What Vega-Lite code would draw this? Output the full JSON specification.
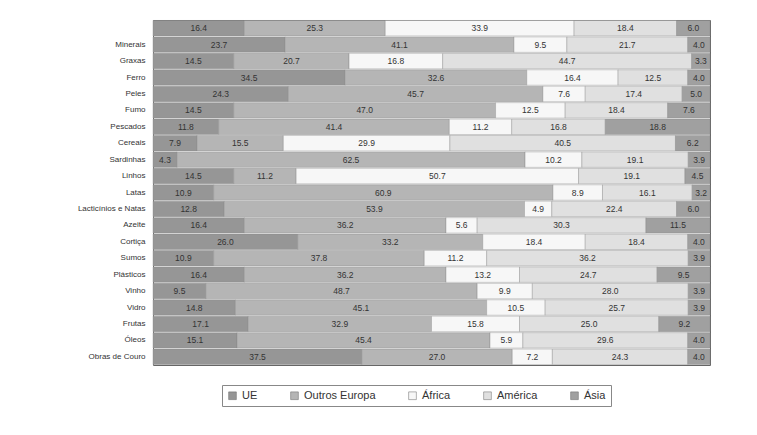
{
  "$schema": "https://vega.github.io/schema/vega-lite/v6.json",
  "width": 557,
  "height": 345,
  "autosize": {"type": "none"},
  "padding": {"left": 153, "top": 20, "right": 47, "bottom": 70},
  "background": "white",
  "config": {"view": {"stroke": "#666", "strokeWidth": 1}, "font": "Liberation Sans"},
  "data": {"values": [
    {"c": "Total", "UE": 16.4, "Outros Europa": 25.3, "África": 33.9, "América": 18.4, "Ásia": 6.0},
    {"c": "Minerais", "UE": 23.7, "Outros Europa": 41.1, "África": 9.5, "América": 21.7, "Ásia": 4.0},
    {"c": "Graxas", "UE": 14.5, "Outros Europa": 20.7, "África": 16.8, "América": 44.7, "Ásia": 3.3},
    {"c": "Ferro", "UE": 34.5, "Outros Europa": 32.6, "África": 16.4, "América": 12.5, "Ásia": 4.0},
    {"c": "Peles", "UE": 24.3, "Outros Europa": 45.7, "África": 7.6, "América": 17.4, "Ásia": 5.0},
    {"c": "Fumo", "UE": 14.5, "Outros Europa": 47.0, "África": 12.5, "América": 18.4, "Ásia": 7.6},
    {"c": "Pescados", "UE": 11.8, "Outros Europa": 41.4, "África": 11.2, "América": 16.8, "Ásia": 18.8},
    {"c": "Cereais", "UE": 7.9, "Outros Europa": 15.5, "África": 29.9, "América": 40.5, "Ásia": 6.2},
    {"c": "Sardinhas", "UE": 4.3, "Outros Europa": 62.5, "África": 10.2, "América": 19.1, "Ásia": 3.9},
    {"c": "Linhos", "UE": 14.5, "Outros Europa": 11.2, "África": 50.7, "América": 19.1, "Ásia": 4.5},
    {"c": "Latas", "UE": 10.9, "Outros Europa": 60.9, "África": 8.9, "América": 16.1, "Ásia": 3.2},
    {"c": "Lacticínios e Natas", "UE": 12.8, "Outros Europa": 53.9, "África": 4.9, "América": 22.4, "Ásia": 6.0},
    {"c": "Azeite", "UE": 16.4, "Outros Europa": 36.2, "África": 5.6, "América": 30.3, "Ásia": 11.5},
    {"c": "Cortiça", "UE": 26.0, "Outros Europa": 33.2, "África": 18.4, "América": 18.4, "Ásia": 4.0},
    {"c": "Sumos", "UE": 10.9, "Outros Europa": 37.8, "África": 11.2, "América": 36.2, "Ásia": 3.9},
    {"c": "Plásticos", "UE": 16.4, "Outros Europa": 36.2, "África": 13.2, "América": 24.7, "Ásia": 9.5},
    {"c": "Vinho", "UE": 9.5, "Outros Europa": 48.7, "África": 9.9, "América": 28.0, "Ásia": 3.9},
    {"c": "Vidro", "UE": 14.8, "Outros Europa": 45.1, "África": 10.5, "América": 25.7, "Ásia": 3.9},
    {"c": "Frutas", "UE": 17.1, "Outros Europa": 32.9, "África": 15.8, "América": 25.0, "Ásia": 9.2},
    {"c": "Óleos", "UE": 15.1, "Outros Europa": 45.4, "África": 5.9, "América": 29.6, "Ásia": 4.0},
    {"c": "Obras de Couro", "UE": 37.5, "Outros Europa": 27.0, "África": 7.2, "América": 24.3, "Ásia": 4.0}
  ]},
  "transform": [
    {"fold": ["UE", "Outros Europa", "África", "América", "Ásia"], "as": ["reg", "v"]},
    {"calculate": "indexof(['UE','Outros Europa','África','América','Ásia'], datum.reg)", "as": "k"},
    {"stack": "v", "groupby": ["c"], "sort": [{"field": "k", "order": "ascending"}], "offset": "normalize", "as": ["x0", "x1"]},
    {"calculate": "(datum.x0 + datum.x1) / 2", "as": "xm"}
  ],
  "encoding": {
    "y": {
      "field": "c", "type": "nominal", "sort": null, "title": null,
      "scale": {"paddingInner": 0.06, "paddingOuter": 0.03},
      "axis": {"ticks": false, "domain": false, "labelFontSize": 8, "labelColor": "#333", "labelPadding": 8,
               "labelExpr": "datum.value == 'Total' ? '' : datum.value"}
    }
  },
  "layer": [
    {
      "mark": {"type": "bar", "stroke": "#888", "strokeWidth": 0.4},
      "encoding": {
        "x": {"field": "x0", "type": "quantitative", "scale": {"domain": [0, 1], "nice": false}, "axis": null},
        "x2": {"field": "x1"},
        "color": {
          "field": "reg", "type": "nominal", "title": null,
          "scale": {"domain": ["UE", "Outros Europa", "África", "América", "Ásia"],
                    "range": ["#969696", "#b5b5b5", "#f7f7f7", "#e0e0e0", "#a0a0a0"]},
          "legend": {"orient": "none", "legendX": 69, "legendY": 365, "direction": "horizontal",
                     "strokeColor": "#888", "padding": 5, "columnPadding": 31, "labelFontSize": 11,
                     "labelColor": "#333", "symbolType": "square", "symbolSize": 60,
                     "symbolStrokeColor": "#666", "symbolStrokeWidth": 0.5}
        }
      }
    },
    {
      "mark": {"type": "text", "fontSize": 8.5, "color": "#333"},
      "encoding": {
        "x": {"field": "xm", "type": "quantitative", "scale": {"domain": [0, 1], "nice": false}},
        "text": {"field": "v", "type": "quantitative", "format": ".1f"}
      }
    }
  ]
}
